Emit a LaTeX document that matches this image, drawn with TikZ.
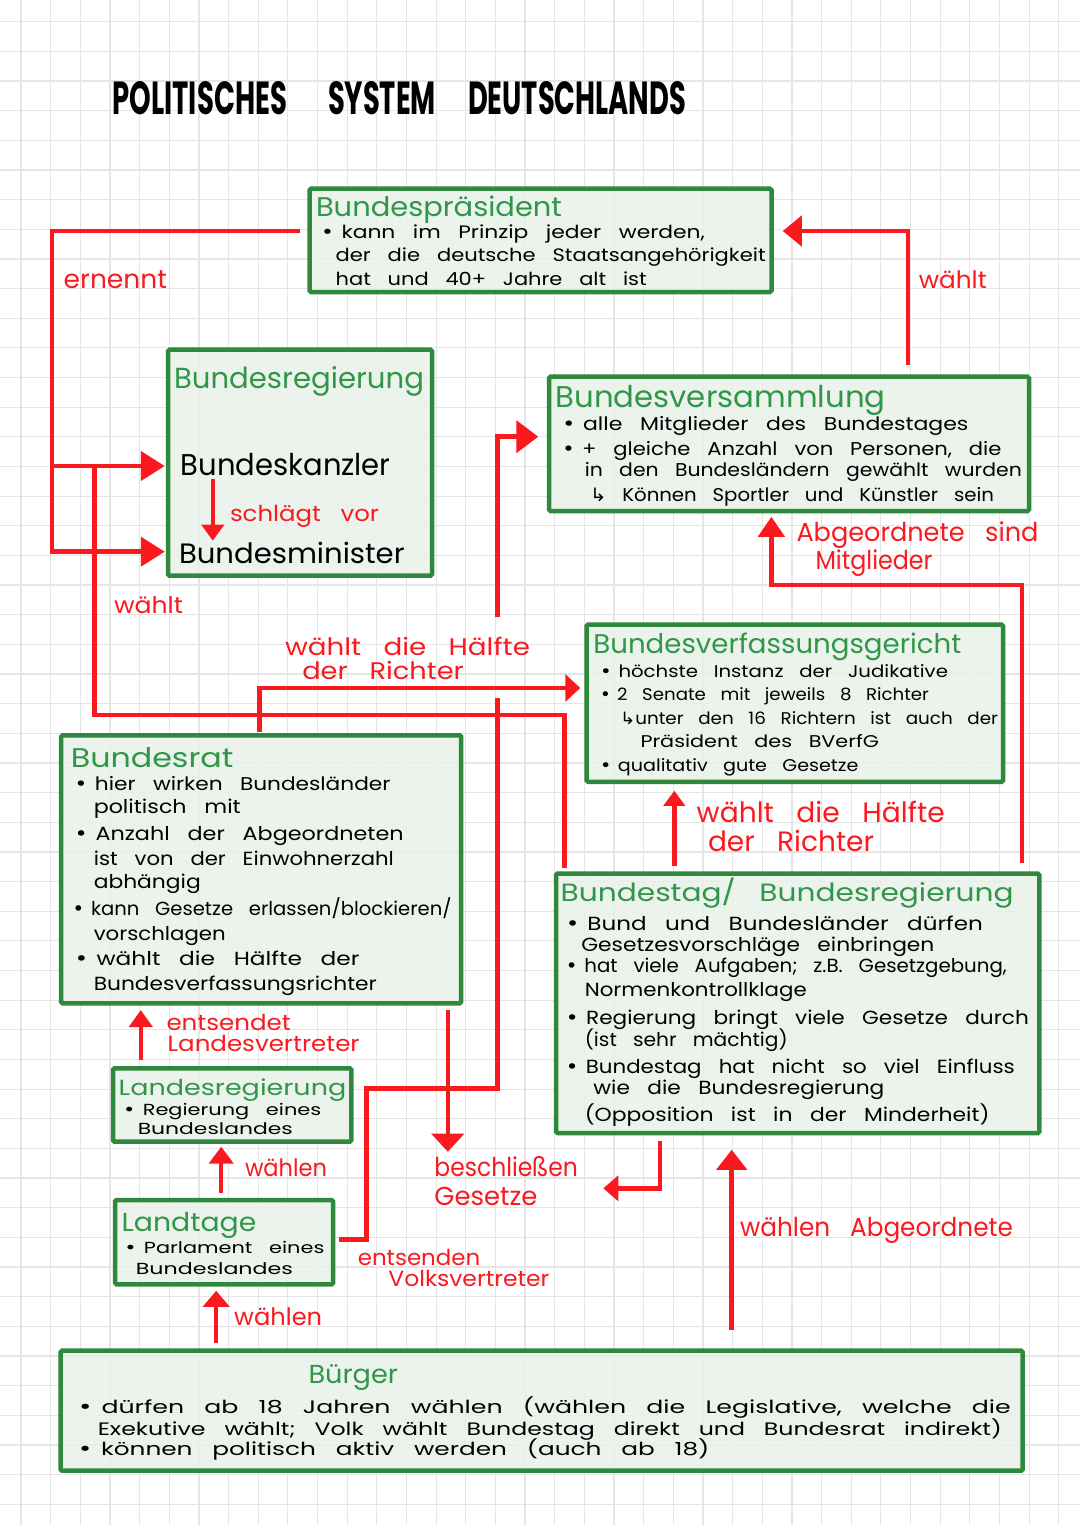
\documentclass[tikz,border=0pt]{standalone}
\usepackage{fontspec}
\setmainfont{Poppins}[WordSpace=3]
\newfontfamily\dv{DejaVu Sans}
\usetikzlibrary{arrows.meta,fit}
\definecolor{redc}{RGB}{250,25,30}
\definecolor{boxg}{RGB}{47,137,60}
\definecolor{txtg}{RGB}{48,150,72}
\definecolor{fillg}{RGB}{232,241,233}
\definecolor{gridc}{RGB}{229,229,229}
\newcommand\bulx{{\dv •}\kern0.35em}
\newcommand\hookx{{\dv ↳}}
\newcommand\tl[6]{\node[tx,#5] (#1) at (#2,#3) {\resizebox{#4pt}{\height}{#6}};}
\tikzset{
  tx/.style={inner sep=0pt, outer sep=0pt, anchor=base west},
  blk/.style={text=black, font=\fontsize{#1}{#1}\selectfont},
  rd/.style={text=redc, font=\fontsize{#1}{#1}\selectfont},
  gn/.style={text=txtg, font=\fontsize{#1}{#1}\selectfont},
  bbox/.style={draw=boxg, line width=4.5pt, fill=fillg, fill opacity=0.85, inner sep=0pt, rounded corners=1.5pt},
  rl/.style={draw=redc, line width=4.5pt},
  hd/.style 2 args={-{Triangle[length=#1pt,width=#2pt]}, redc},
}
\begin{document}
\begin{tikzpicture}[x=1pt,y=-1pt]
\useasboundingbox (0,0) rectangle (1080,1525);
\fill[white] (0,0) rectangle (1080,1525);
\foreach \i in {0,...,35} {\draw[gridc, line width=1.2pt] ({21+29.65*\i},0) -- ({21+29.65*\i},1525);}
\foreach \i in {0,...,50} {\draw[gridc, line width=1.2pt] (0,{21.7+29.65*\i}) -- (1080,{21.7+29.65*\i});}

% title
\node[tx, font=\fontsize{30}{30}\selectfont\bfseries] (ti1) at (112.5,115) {\resizebox{174.5pt}{33pt}{POLITISCHES}};
\node[tx, font=\fontsize{30}{30}\selectfont\bfseries] (ti2) at (328,115) {\resizebox{108pt}{33pt}{SYSTEM}};
\node[tx, font=\fontsize{30}{30}\selectfont\bfseries] (ti3) at (468,115) {\resizebox{218pt}{33pt}{DEUTSCHLANDS}};

% boxes
\node[bbox, fit={(309.5,188.7) (771.5,292)}] (bp) {};
\node[bbox, fit={(168,349.7) (432,575.7)}] (br) {};
\node[bbox, fit={(549,376.7) (1029,511)}] (bv) {};
\node[bbox, fit={(586.5,624.6) (1003,781.8)}] (bvg) {};
\node[bbox, fit={(61.2,735.3) (461.2,1003.3)}] (brat) {};
\node[bbox, fit={(556,873.6) (1039.3,1133)}] (bt) {};
\node[bbox, fit={(113,1068.3) (351.3,1141.7)}] (lr) {};
\node[bbox, fit={(115,1200) (333,1284.3)}] (lt) {};
\node[bbox, fit={(60.6,1350.7) (1022.7,1470.7)}] (bg) {};

% Bundespraesident
\tl{bp0}{316}{216.7}{246}{gn=27}{Bundespräsident}
\tl{bp1}{321}{238.3}{384}{blk=18}{\bulx kann im Prinzip jeder werden,}
\tl{bp2}{335.7}{261.7}{430}{blk=18}{der die deutsche Staatsangehörigkeit}
\tl{bp3}{335.7}{285}{311}{blk=18}{hat und 40+ Jahre alt ist}

% Bundesregierung
\tl{br0}{174}{388.3}{250}{gn=29}{Bundesregierung}
\tl{brk}{180.8}{475}{210}{blk=30}{Bundeskanzler}
\tl{brm}{179}{563.3}{225.6}{blk=28}{Bundesminister}
\tl{brs}{230}{521.7}{149}{rd=22}{schlägt vor}

% Bundesversammlung
\tl{bv0}{555.5}{407.3}{330}{gn=30}{Bundesversammlung}
\tl{bv1}{562.4}{430}{406}{blk=18.5}{\bulx alle Mitglieder des Bundestages}
\tl{bv2}{562.4}{455}{439}{blk=18.5}{\bulx + gleiche Anzahl von Personen, die}
\tl{bv3}{584.8}{476.7}{437}{blk=18.5}{in den Bundesländern gewählt wurden}
\tl{bv4}{590}{501}{404}{blk=18.5}{\hookx\ Können Sportler und Künstler sein}

% Bundesverfassungsgericht
\tl{bg0}{593.4}{653.2}{368}{gn=27}{Bundesverfassungsgericht}
\tl{bg1}{600}{677}{348}{blk=17}{\bulx höchste Instanz der Judikative}
\tl{bg2}{600}{700.7}{329}{blk=17}{\bulx 2 Senate mit jeweils 8 Richter}
\tl{bg3}{620}{724.6}{378}{blk=17}{\hookx unter den 16 Richtern ist auch der}
\tl{bg4}{640.5}{747.9}{238.5}{blk=17}{Präsident des BVerfG}
\tl{bg5}{600}{771}{258.5}{blk=17}{\bulx qualitativ gute Gesetze}

% Bundesrat
\tl{ra0}{70.8}{767}{162.6}{gn=27}{Bundesrat}
\tl{ra1}{74.6}{790}{315.8}{blk=18.5}{\bulx hier wirken Bundesländer}
\tl{ra2}{93.8}{813.3}{147}{blk=19}{politisch mit}
\tl{ra3}{74.6}{840}{329}{blk=19}{\bulx Anzahl der Abgeordneten}
\tl{ra4}{93.8}{865}{300}{blk=19}{ist von der Einwohnerzahl}
\tl{ra5}{93.8}{888.3}{107}{blk=19}{abhängig}
\tl{ra6}{72.7}{915}{379}{blk=19}{\bulx kann Gesetze erlassen/blockieren/}
\tl{ra7}{93.8}{940}{132}{blk=19}{vorschlagen}
\tl{ra8}{74.6}{965}{285}{blk=19}{\bulx wählt die Hälfte der}
\tl{ra9}{93.8}{990}{283}{blk=19}{Bundesverfassungsrichter}

% Bundestag / Bundesregierung
\tl{bt0}{560.7}{901.4}{453}{gn=25}{Bundestag/ Bundesregierung}
\tl{bt1}{565.8}{930}{417}{blk=19}{\bulx Bund und Bundesländer dürfen}
\tl{bt2}{581.3}{951.4}{353}{blk=19}{Gesetzesvorschläge einbringen}
\tl{bt3}{565.8}{972.9}{441}{blk=19}{\bulx hat viele Aufgaben; z.B. Gesetzgebung,}
\tl{bt4}{584.8}{996}{222}{blk=19}{Normenkontrollklage}
\tl{bt5}{565.8}{1024.6}{463}{blk=19}{\bulx Regierung bringt viele Gesetze durch}
\tl{bt6}{584.8}{1046}{203}{blk=19}{(ist sehr mächtig)}
\tl{bt7}{565.8}{1073.6}{449}{blk=19}{\bulx Bundestag hat nicht so viel Einfluss}
\tl{bt8}{593.4}{1094.3}{291}{blk=19}{wie die Bundesregierung}
\tl{bt9}{584.8}{1121}{404.6}{blk=19}{(Opposition ist in der Minderheit)}

% Landesregierung
\tl{lr0}{118.6}{1095}{227.7}{gn=22}{Landesregierung}
\tl{lr1}{123.2}{1115}{198}{blk=16}{\bulx Regierung eines}
\tl{lr2}{137.8}{1134}{155}{blk=16}{Bundeslandes}

% Landtage
\tl{lt0}{121.7}{1231.7}{134.7}{gn=26}{Landtage}
\tl{lt1}{124.4}{1253.3}{200}{blk=16}{\bulx Parlament eines}
\tl{lt2}{135.9}{1274}{157}{blk=16}{Bundeslandes}

% Buerger
\tl{bu0}{308.5}{1383.3}{89.5}{gn=26}{Bürger}
\tl{bu1}{77.8}{1413.3}{933}{blk=18}{\bulx dürfen ab 18 Jahren wählen (wählen die Legislative, welche die}
\tl{bu2}{97.8}{1435}{904}{blk=18}{Exekutive wählt; Volk wählt Bundestag direkt und Bundesrat indirekt)}
\tl{bu3}{77.8}{1455}{631.6}{blk=18}{\bulx können politisch aktiv werden (auch ab 18)}

% red labels
\tl{l1}{63.7}{288.3}{103.3}{rd=26}{ernennt}
\tl{l2}{918.8}{288.3}{68}{rd=24}{wählt}
\tl{l3}{796.5}{541.7}{242}{rd=26}{Abgeordnete sind}
\tl{l4}{815.5}{569.3}{117}{rd=26}{Mitglieder}
\tl{l5}{114}{613.3}{69}{rd=23}{wählt}
\tl{l6}{285}{655}{245}{rd=24}{wählt die Hälfte}
\tl{l7}{302.3}{679.3}{161.5}{rd=24}{der Richter}
\tl{l8}{696.7}{822.9}{248}{rd=28}{wählt die Hälfte}
\tl{l9}{708}{851.4}{166}{rd=28}{der Richter}
\tl{l10}{166.5}{1030}{124.4}{rd=22}{entsendet}
\tl{l11}{167.6}{1051.7}{192}{rd=22}{Landesvertreter}
\tl{l12}{245}{1176.7}{82}{rd=24}{wählen}
\tl{l13}{434.4}{1176.7}{143.5}{rd=26}{beschließen}
\tl{l14}{434.4}{1205}{103}{rd=26}{Gesetze}
\tl{l15}{740}{1236}{273}{rd=26}{wählen Abgeordnete}
\tl{l16}{357.8}{1265}{122.5}{rd=22}{entsenden}
\tl{l17}{388.4}{1286.7}{161}{rd=22}{Volksvertreter}
\tl{l18}{234.2}{1325}{88}{rd=24}{wählen}

% coordinates
\coordinate (e1) at (52,231);
\coordinate (e2) at (52,551.7);
\coordinate (e3) at (52,466);
\coordinate (w1) at (564.5,715);
\coordinate (w2) at (94.7,715);
\coordinate (w3) at (94.7,466);
\coordinate (v1) at (908,231);
\coordinate (a1) at (1022,585);
\coordinate (a2) at (771.4,585);
\coordinate (r1) at (259.5,688);
\coordinate (h1) at (674.3,800);
\coordinate (p1) at (366.6,1239.3);
\coordinate (p2) at (366.6,1088.3);
\coordinate (p3) at (497.5,1088.3);
\coordinate (p4) at (497.5,698.3);
\coordinate (p5) at (497.5,616.7);
\coordinate (p6) at (497.5,436.7);
\coordinate (k1) at (212.8,479);
\coordinate (k2) at (212.8,540.7);
\coordinate (s1) at (447.8,1151.7);
\coordinate (g1) at (660,1188.3);
\coordinate (g2) at (603.3,1188.3);
\coordinate (u1) at (731.7,1200);
\coordinate (n1) at (140.8,1030);
\coordinate (n2) at (221.2,1170);
\coordinate (n3) at (216.2,1310);

% connectors
\draw[rl, hd={24}{29}, shorten <=7pt, shorten >=1pt] (bp.west |- e1) -- (e1) -- (e2) -- (br.west |- e2);
\draw[rl, hd={24}{29}, shorten >=1pt] (e3) -- (br.west |- e3);
\draw[rl, shorten <=3pt] (bt.north -| w1) -- (w1) -- (w2) -- (w3);
\draw[rl, hd={19}{30}, shorten <=9.5pt, shorten >=9pt] (bv.north -| v1) -- (v1) -- (bp.east |- v1);
\draw[rl, hd={20}{26}, shorten <=8pt, shorten >=3.5pt] (bt.north -| a1) -- (a1) -- (a2) -- (bv.south -| a2);
\draw[rl, hd={15}{27}, shorten <=1pt, shorten >=4pt] (brat.north -| r1) -- (r1) -- (bvg.west |- r1);
\draw[rl, hd={15}{21}, shorten <=5.5pt, shorten >=6.7pt] (bt.north -| h1) -- (bvg.south -| h1);
\draw[rl, shorten <=3.5pt] (lt.east |- p1) -- (p1) -- (p2) -- (p3) -- (p4);
\draw[rl, hd={22}{32}, shorten >=8.5pt] (p5) -- (p6) -- (bv.west |- p6);
\draw[rl, hd={16}{22}] (k1) -- (k2);
\draw[rl, hd={18}{32}, shorten <=4.5pt] (brat.south -| s1) -- (s1);
\draw[rl, hd={15}{25}, shorten <=6pt] (bt.south -| g1) -- (g1) -- (g2);
\draw[rl, hd={20}{30}, shorten <=18.5pt, shorten >=14.5pt] (bg.north -| u1) -- (bt.south -| u1);
\draw[rl, hd={17}{23}, shorten <=6pt, shorten >=4.5pt] (lr.north -| n1) -- (brat.south -| n1);
\draw[rl, hd={17}{24}, shorten <=4.5pt, shorten >=2.7pt] (lt.north -| n2) -- (lr.south -| n2);
\draw[rl, hd={16}{26}, shorten <=5.5pt, shorten >=4.2pt] (bg.north -| n3) -- (lt.south -| n3);
\end{tikzpicture}
\end{document}
